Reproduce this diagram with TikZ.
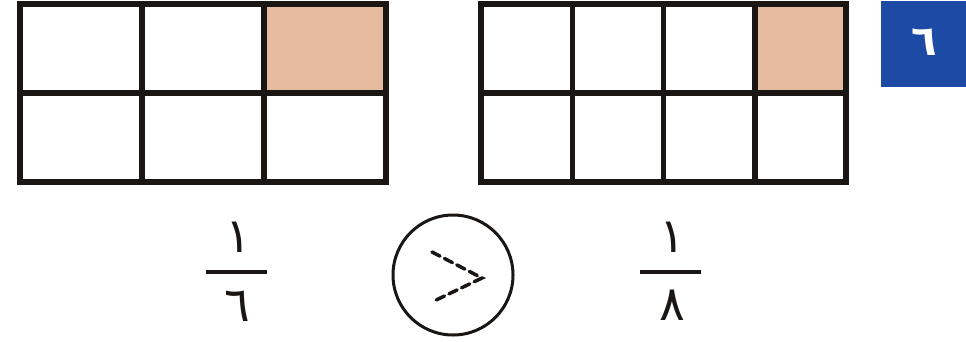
\documentclass[tikz,border=0pt]{standalone}
\usepackage{fontspec}
\newfontfamily\arabicfont[Script=Arabic]{DejaVu Sans}
\definecolor{peach}{RGB}{230,187,160}
\definecolor{badgeblue}{RGB}{28,74,165}
\definecolor{ink}{RGB}{25,22,20}
\begin{document}
\begin{tikzpicture}[x=1pt,y=-1pt,
  gridline/.style={line width=5.5pt,draw=ink},
  num/.style={font=\arabicfont\fontsize{48}{48}\selectfont, inner sep=0pt, text=ink},
  fracbar/.style={fill=ink, minimum width=61pt, minimum height=4pt, inner sep=0pt},
  badge/.style={fill=badgeblue, minimum width=85pt, minimum height=86pt, inner sep=0pt}]
\useasboundingbox (0,0) rectangle (966,341);
% shaded cells
\fill[peach] (264,4) rectangle (386,93);
\fill[peach] (754.75,4) rectangle (846,93);
% left grid 3x2
\foreach \i in {0,1,2}{\foreach \j in {0,1}{
  \draw[gridline] (20+122*\i,4+89*\j) rectangle ++(122,89);}}
% right grid 4x2
\foreach \i in {0,1,2,3}{\foreach \j in {0,1}{
  \draw[gridline] (481+91.25*\i,4+89*\j) rectangle ++(91.25,89);}}
% badge
\node[badge, anchor=north west] (badge) at (881,1) {};
\node[text=white, font=\arabicfont\bfseries\fontsize{42}{42}\selectfont, inner sep=0pt] (badgenum) at (924,42) {٦};
% fractions
\node[num] (n1) at (238,237) {١};
\node[fracbar] (bar1) at (236.5,272) {};
\node[num] (d1) at (237,306) {٦};
\node[num] (n2) at (672,237) {١};
\node[fracbar] (bar2) at (670.5,272) {};
\node[num] (d2) at (672,305) {٨};
% comparison circle
\node[circle, draw=ink, line width=3pt, minimum size=120pt, inner sep=0pt] (cmp) at (453,275) {};
\draw[line width=3.5pt, draw=ink, dash pattern=on 9pt off 5pt, line cap=round]
  ([shift={(-21,-23)}]cmp.center) -- ([shift={(29,3)}]cmp.center) -- ([shift={(-21,27)}]cmp.center);
\end{tikzpicture}
\end{document}
